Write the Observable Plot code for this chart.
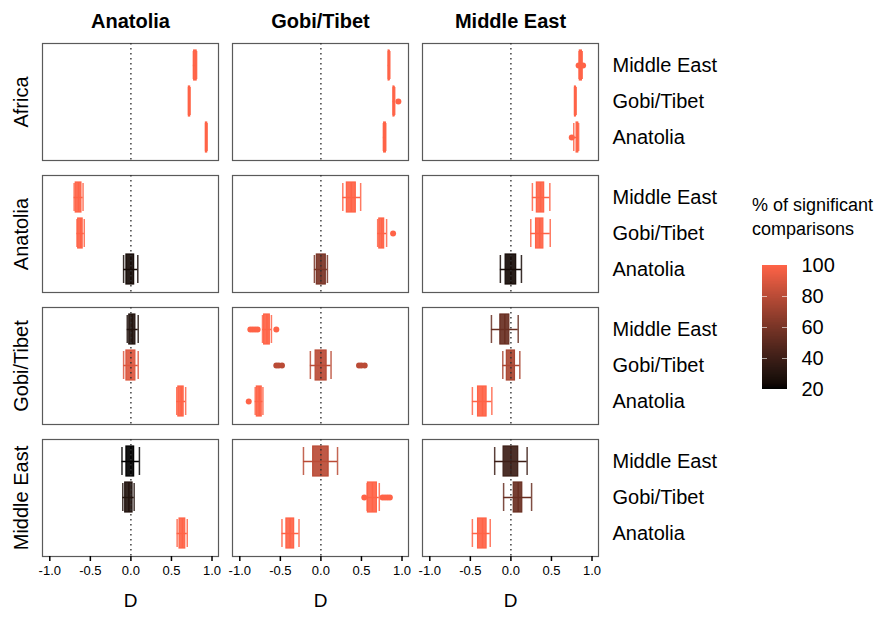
<!DOCTYPE html>
<html><head><meta charset="utf-8">
<script src="https://cdn.jsdelivr.net/npm/d3@7"></script>
<script src="https://cdn.jsdelivr.net/npm/@observablehq/plot@0.6"></script>
<style>
body{margin:0;background:#fff;font-family:"Liberation Sans",Arial,sans-serif;}
#wrap{position:relative;width:893px;height:621px;overflow:hidden;}
#chart{position:absolute;left:0;top:0;}
#legend-title{position:absolute;left:752px;top:193px;font-size:18px;line-height:24px;color:#000;}
#legend{position:absolute;left:760px;top:255px;}
</style></head><body>
<div id="wrap"><div id="chart"></div><div id="legend-title">% of significant<br>comparisons</div><div id="legend"></div></div>
<script>
const rowGroups = ["Africa", "Anatolia", "Gobi/Tibet", "Middle East"];
const colGroups = ["Anatolia", "Gobi/Tibet", "Middle East"];
const comparisons = ["Middle East", "Gobi/Tibet", "Anatolia"];
const xTicks = [-1, -0.5, 0, 0.5, 1];
const legendTicks = [20, 40, 60, 80, 100];

// box statistics, ordered by row group, then column group, then comparison
const lowWhisker = [
  0.77, 0.71, 0.92,   0.83, 0.89, 0.77,   0.84, 0.785, 0.775,
  -0.70, -0.665, -0.09,   0.27, 0.70, -0.08,   0.265, 0.245, -0.13,
  -0.045, -0.09, 0.565,   -0.72, -0.13, -0.81,   -0.24, -0.10, -0.475,
  -0.11, -0.10, 0.57,   -0.215, 0.57, -0.48,   -0.20, -0.09, -0.475
];
const q1 = [
  0.78, 0.715, 0.925,   0.835, 0.895, 0.78,   0.85, 0.79, 0.81,
  -0.68, -0.65, -0.055,   0.32, 0.72, -0.05,   0.32, 0.31, -0.065,
  -0.02, -0.055, 0.585,   -0.70, -0.065, -0.79,   -0.13, -0.05, -0.405,
  -0.055, -0.07, 0.60,   -0.095, 0.58, -0.425,   -0.09, 0.035, -0.405
];
const median = [
  0.795, 0.72, 0.93,   0.84, 0.90, 0.79,   0.86, 0.795, 0.82,
  -0.645, -0.62, 0.0,   0.375, 0.75, 0.0,   0.365, 0.355, 0.0,
  0.015, 0.0, 0.62,   -0.665, 0.0, -0.76,   -0.075, 0.0, -0.35,
  0.0, -0.025, 0.635,   0.0, 0.635, -0.38,   0.0, 0.09, -0.35
];
const q3 = [
  0.81, 0.73, 0.94,   0.845, 0.905, 0.80,   0.875, 0.80, 0.83,
  -0.61, -0.595, 0.04,   0.43, 0.78, 0.06,   0.41, 0.40, 0.065,
  0.055, 0.055, 0.65,   -0.63, 0.07, -0.73,   -0.02, 0.05, -0.30,
  0.04, 0.02, 0.67,   0.095, 0.69, -0.33,   0.09, 0.14, -0.30
];
const highWhisker = [
  0.81, 0.73, 0.94,   0.85, 0.91, 0.80,   0.88, 0.805, 0.835,
  -0.59, -0.575, 0.085,   0.49, 0.81, 0.08,   0.48, 0.485, 0.13,
  0.09, 0.09, 0.675,   -0.61, 0.125, -0.715,   0.09, 0.11, -0.235,
  0.105, 0.04, 0.695,   0.205, 0.72, -0.27,   0.20, 0.255, -0.255
];
const pctSignificant = [
  100, 100, 100,   100, 100, 100,   100, 100, 100,
  100, 100, 25,   100, 100, 60,   100, 100, 25,
  30, 90, 100,   100, 80, 100,   55, 75, 100,
  20, 30, 100,   80, 100, 100,   40, 55, 100
];

// outliers
const outlierRow = ["Africa", "Africa", "Africa", "Africa", "Anatolia",
  "Gobi/Tibet", "Gobi/Tibet", "Gobi/Tibet", "Gobi/Tibet", "Gobi/Tibet",
  "Gobi/Tibet", "Gobi/Tibet", "Gobi/Tibet", "Gobi/Tibet", "Gobi/Tibet", "Gobi/Tibet", "Gobi/Tibet",
  "Middle East", "Middle East", "Middle East", "Middle East", "Middle East"];
const outlierCol = ["Gobi/Tibet", "Middle East", "Middle East", "Middle East", "Gobi/Tibet",
  "Gobi/Tibet", "Gobi/Tibet", "Gobi/Tibet", "Gobi/Tibet", "Gobi/Tibet",
  "Gobi/Tibet", "Gobi/Tibet", "Gobi/Tibet", "Gobi/Tibet", "Gobi/Tibet", "Gobi/Tibet", "Gobi/Tibet",
  "Gobi/Tibet", "Gobi/Tibet", "Gobi/Tibet", "Gobi/Tibet", "Gobi/Tibet"];
const outlierComp = ["Gobi/Tibet", "Middle East", "Middle East", "Anatolia", "Gobi/Tibet",
  "Middle East", "Middle East", "Middle East", "Middle East", "Middle East",
  "Gobi/Tibet", "Gobi/Tibet", "Gobi/Tibet", "Gobi/Tibet", "Gobi/Tibet", "Gobi/Tibet", "Anatolia",
  "Gobi/Tibet", "Gobi/Tibet", "Gobi/Tibet", "Gobi/Tibet", "Gobi/Tibet"];
const outlierD = [0.955, 0.835, 0.89, 0.75, 0.89,
  -0.87, -0.84, -0.81, -0.78, -0.55,
  -0.55, -0.52, -0.48, 0.47, 0.50, 0.54, -0.89,
  0.535, 0.76, 0.79, 0.82, 0.85];

const boxes = [];
let i = 0;
for (const r of rowGroups) for (const c of colGroups) for (const k of comparisons) {
  boxes.push({row: r, col: c, comp: k, lo: lowWhisker[i], q1: q1[i], med: median[i], q3: q3[i], hi: highWhisker[i], pct: pctSignificant[i]});
  i++;
}
const outliers = outlierD.map((d, j) => {
  const b = boxes.find(b => b.row === outlierRow[j] && b.col === outlierCol[j] && b.comp === outlierComp[j]);
  return {row: outlierRow[j], col: outlierCol[j], comp: outlierComp[j], d, pct: b.pct};
});

const colorScale = {type: "linear", domain: [20, 100], range: ["#000000", "#FF6347"], interpolate: "lab"};
const font = "Liberation Sans, Arial, sans-serif";
const F = {fx: "col", fy: "row", y: "comp"};

const chart = Plot.plot({
  width: 893, height: 621,
  marginTop: 42, marginBottom: 63, marginLeft: 42, marginRight: 295,
  style: {fontFamily: font, background: "white", color: "black"},
  fx: {domain: colGroups, paddingInner: 0.0737, paddingOuter: 0, label: null},
  fy: {domain: rowGroups, paddingInner: 0.11, paddingOuter: 0, label: null},
  x: {domain: [-1.09, 1.08]},
  y: {type: "band", domain: comparisons, paddingInner: 0.16, paddingOuter: 0.18, label: null},
  color: colorScale,
  marks: [
    Plot.frame({stroke: "#5a5a5a", strokeWidth: 1.2}),
    Plot.ruleY(boxes, {...F, x1: "lo", x2: "hi", stroke: "pct", strokeWidth: 1.5}),
    Plot.tickX(boxes, {...F, x: "lo", stroke: "pct", strokeWidth: 1.5, strokeOpacity: 0.85, insetTop: 1, insetBottom: 1}),
    Plot.tickX(boxes, {...F, x: "hi", stroke: "pct", strokeWidth: 1.5, strokeOpacity: 0.85, insetTop: 1, insetBottom: 1}),
    Plot.barX(boxes, {...F, x1: "q1", x2: "q3", fill: "pct", fillOpacity: 0.92, stroke: "pct", strokeWidth: 1.2}),
    Plot.tickX(boxes, {...F, x: "med", stroke: "pct", strokeWidth: 1.5}),
    Plot.dot(outliers, {fx: "col", fy: "row", y: "comp", x: "d", fill: "pct", r: 3}),
    Plot.ruleX([0], {stroke: "#333", strokeDasharray: "1.5,3.5", strokeWidth: 1.4}),
    Plot.axisX({ticks: xTicks, tickFormat: d => d.toFixed(1), tickSize: 5, tickPadding: 4, fontSize: 13, label: null, line: true, strokeWidth: 1.5}),
    Plot.axisY({anchor: "right", tickSize: 0, tickPadding: 14, fontSize: 20, label: null, line: true, strokeWidth: 1.5}),
    Plot.axisFx({anchor: "top", tickSize: 0, tickPadding: 16, fontSize: 20, fontWeight: "bold", label: null}),
    Plot.axisFy({anchor: "left", tickSize: 0, tickPadding: 15, tickRotate: -90, fontSize: 20, label: null}),
    Plot.text(colGroups, {fx: d => d, fy: () => "Middle East", text: () => "D", frameAnchor: "bottom", dy: 50, fontSize: 19})
  ]
});
document.getElementById("chart").appendChild(chart);

const steps = d3.range(20, 100, 0.5);
const legend = Plot.plot({
  width: 87, height: 144,
  marginTop: 10, marginBottom: 10, marginLeft: 2, marginRight: 60,
  style: {fontFamily: font, background: "transparent", color: "black", shapeRendering: "crispEdges"},
  x: {domain: [0, 1], axis: null},
  y: {domain: [20, 100]},
  color: colorScale,
  marks: [
    Plot.rect(steps, {x1: 0, x2: 1, y1: d => d, y2: d => Math.min(100, d + 1), fill: d => d + 0.25, shapeRendering: "crispEdges"}),
    Plot.ruleY([40, 60, 80], {x1: 0, x2: 0.2, stroke: "white", strokeOpacity: 0.6}),
    Plot.ruleY([40, 60, 80], {x1: 0.8, x2: 1, stroke: "white", strokeOpacity: 0.6}),
    Plot.axisY({anchor: "right", ticks: legendTicks, tickSize: 0, tickPadding: 14, fontSize: 20, label: null})
  ]
});
document.getElementById("legend").appendChild(legend);
</script>
</body></html>
